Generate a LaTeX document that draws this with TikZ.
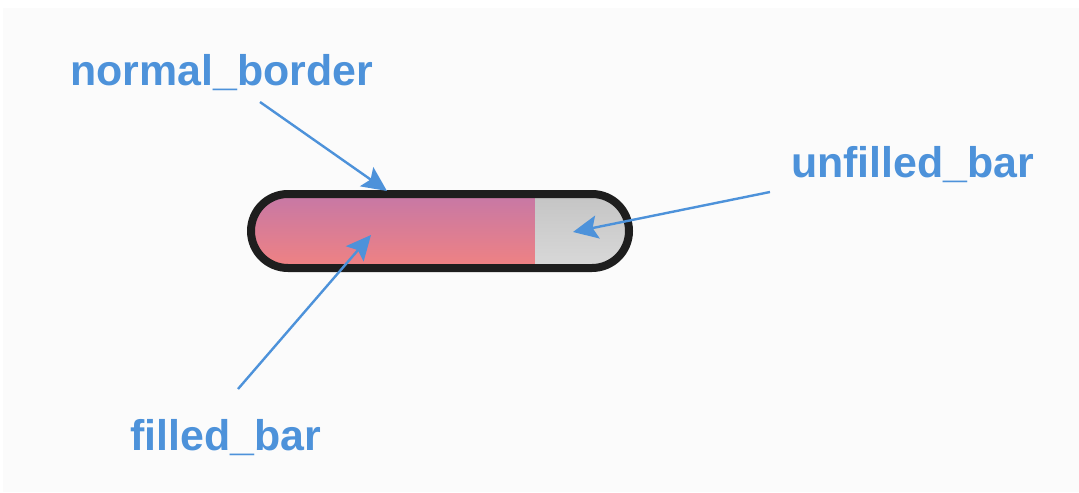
\documentclass[tikz,border=0pt]{standalone}
\usepackage{fontspec}
\setmainfont{Liberation Sans}
\usetikzlibrary{positioning, arrows.meta}
\definecolor{pagebg}{HTML}{FBFBFB}
\definecolor{labelblue}{HTML}{4D92DA}
\definecolor{barline}{HTML}{1E1E1E}
\definecolor{fillTop}{HTML}{C678A6}
\definecolor{fillBot}{HTML}{F08282}
\definecolor{emptyTop}{HTML}{C4C4C4}
\definecolor{emptyBot}{HTML}{D9D9D9}
\tikzset{
  partlabel/.style ={font=\fontsize{30.5}{36}\selectfont\bfseries, text=labelblue,
                     inner sep=0pt, anchor=base west},
  pointer/.style   ={-{Stealth[length=0.62cm, width=0.58cm, inset=0.12cm]},
                     labelblue, line width=0.06cm},
  barborder/.style ={draw=barline, line width=0.2cm, rounded corners=0.925cm},
}
\begin{document}
\begin{tikzpicture}[x=0.025cm, y=-0.025cm]
\useasboundingbox (0,0) rectangle (1079,493);
\fill[white] (0,0) rectangle (1079,493);
\fill[pagebg] (3,8) rectangle (1079,492);

% the bar
\begin{scope}
  \clip[rounded corners=0.925cm] (251,194) rectangle (629,268);
  \shade[top color=fillTop, bottom color=fillBot] (250,194) rectangle (535,268);
  \shade[top color=emptyTop, bottom color=emptyBot] (535,194) rectangle (630,268);
\end{scope}
\draw[barborder] (251,194) rectangle (629,268);

% labels
\node[partlabel] (border) at (70,85)  {normal\_border};
\node[partlabel] (empty)  at (791,177) {unfilled\_bar};
\node[partlabel] (filled) at (130,450) {filled\_bar};

% arrow ends
\coordinate (borderTail) at (260,102);
\coordinate (borderTip)  at (387,191);
\coordinate (emptyTail)  at (770,192);
\coordinate (emptyTip)   at (573,232);
\coordinate (filledTail) at (238,389);
\coordinate (filledTip)  at (371,235);

\draw[pointer] (borderTail) -- (borderTip);
\draw[pointer] (emptyTail) -- (emptyTip);
\draw[pointer] (filledTail) -- (filledTip);
\end{tikzpicture}
\end{document}
